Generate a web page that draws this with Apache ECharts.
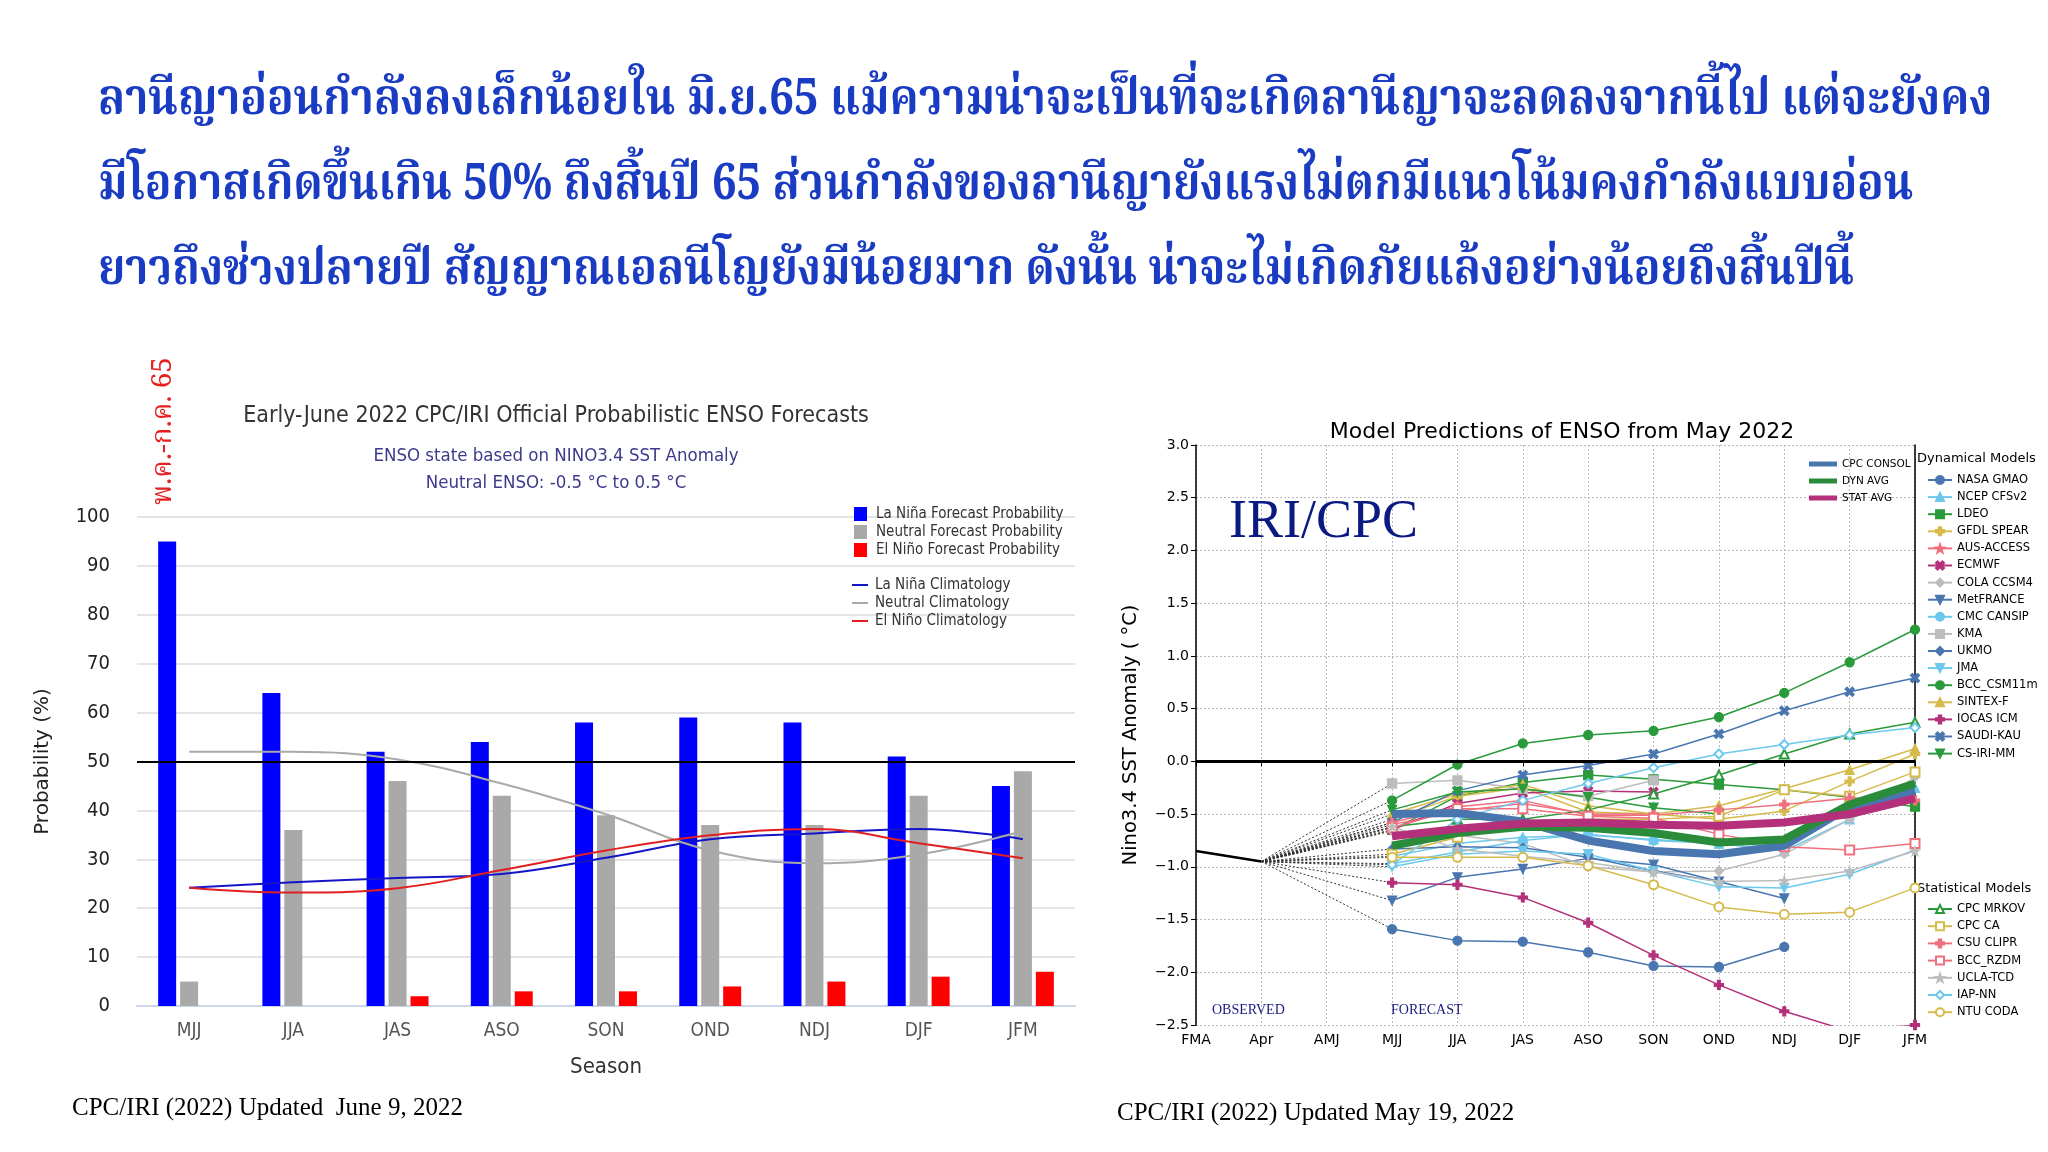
<!DOCTYPE html>
<html>
<head>
<meta charset="utf-8">
<title>ENSO forecasts</title>
<script src="https://cdn.jsdelivr.net/npm/echarts@6/dist/echarts.min.js"></script>
<style>
  html, body { margin: 0; padding: 0; background: #fff; }
  #main { width: 2048px; height: 1152px; }
</style>
</head>
<body>
<div id="main"></div>
<script>
// ---------- left chart: CPC/IRI probabilistic forecast ----------
var seasons = ['MJJ', 'JJA', 'JAS', 'ASO', 'SON', 'OND', 'NDJ', 'DJF', 'JFM'];
var laNinaProb  = [95, 64, 52, 54, 58, 59, 58, 51, 45];
var neutralProb = [5, 36, 46, 43, 39, 37, 37, 43, 48];
var elNinoProb  = [0, 0, 2, 3, 3, 4, 5, 6, 7];
var laNinaClim  = [24.2, 25.3, 26.2, 27.0, 30.3, 34.1, 35.3, 36.2, 34.1];
var neutralClim = [52.0, 52.0, 50.4, 45.5, 39.2, 31.8, 29.2, 31.0, 35.8];
var elNinoClim  = [24.2, 23.2, 24.1, 27.8, 31.8, 34.9, 36.2, 33.3, 30.2];

// ---------- right chart: model plume (values MJJ .. JFM) ----------
var plumeMonths = ['FMA', 'Apr', 'AMJ', 'MJJ', 'JJA', 'JAS', 'ASO', 'SON', 'OND', 'NDJ', 'DJF', 'JFM'];
var observed = [-0.85, -0.95];

// dynamical models
var nasaGmao  = [-1.59, -1.70, -1.71, -1.81, -1.94, -1.95, -1.76, null, null];
var ncepCfsv2 = [-0.90, -0.78, -0.72, -0.70, -0.74, -0.78, -0.85, -0.55, -0.25];
var ldeo      = [-0.65, -0.33, -0.20, -0.13, -0.17, -0.22, -0.27, -0.34, -0.43];
var gfdlSpear = [-0.55, -0.33, -0.25, -0.48, -0.50, -0.55, -0.47, -0.19, 0.07];
var ausAccess = [-0.60, -0.47, -0.40, -0.50, -0.50, null, null, null, null];
var ecmwf     = [-0.65, -0.40, -0.30, -0.28, -0.29, null, null, null, null];
var colaCcsm4 = [-0.66, -0.70, -0.78, -1.00, -1.05, -1.04, -0.88, -0.55, -0.15];
var metFrance = [-1.32, -1.10, -1.02, -0.92, -0.98, -1.14, -1.30, null, null];
var cmcCansip = [-0.97, -0.86, -0.75, -0.69, -0.75, -0.78, -0.80, null, null];
var kma       = [-0.21, -0.18, -0.26, -0.33, -0.18, null, null, null, null];
var ukmo      = [-0.83, -0.81, -0.82, -0.91, -1.04, -1.14, null, null, null];
var jma       = [-1.00, -0.88, -0.85, -0.88, -1.04, -1.19, -1.20, -1.07, -0.84];
var bccCsm11m = [-0.37, -0.03, 0.17, 0.25, 0.29, 0.42, 0.65, 0.94, 1.25];
var sintexF   = [-0.50, -0.31, -0.22, -0.42, -0.50, -0.42, -0.26, -0.08, 0.12];
var iocasIcm  = [-1.15, -1.17, -1.29, -1.53, -1.84, -2.12, -2.37, -2.56, -2.50];
var saudiKau  = [-0.58, -0.28, -0.13, -0.04, 0.07, 0.26, 0.48, 0.66, 0.79];
var csIriMm   = [-0.46, -0.29, -0.26, -0.34, -0.44, -0.50, null, null, null];

// statistical models
var cpcMrkov = [-0.62, -0.55, -0.55, -0.46, -0.31, -0.13, 0.07, 0.26, 0.37];
var cpcCa    = [-0.88, -0.72, -0.60, -0.55, -0.55, -0.52, -0.27, -0.33, -0.10];
var csuClipr = [-0.58, -0.43, -0.37, -0.51, -0.51, -0.46, -0.41, -0.35, -0.37];
var bccRzdm  = [-0.63, -0.45, -0.45, -0.52, -0.54, -0.69, -0.81, -0.84, -0.78];
var uclaTcd  = [-0.62, -0.83, -0.90, -0.96, -1.05, -1.14, -1.13, -1.04, -0.85];
var iapNn    = [-0.98, -0.55, -0.37, -0.21, -0.06, 0.07, 0.16, 0.25, 0.32];
var ntuCoda  = [-0.91, -0.91, -0.91, -0.99, -1.17, -1.38, -1.45, -1.43, -1.20];

// averages
var cpcConsol = [-0.50, -0.49, -0.57, -0.75, -0.85, -0.88, -0.80, -0.43, -0.28];
var dynAvg    = [-0.80, -0.68, -0.62, -0.63, -0.68, -0.77, -0.74, -0.41, -0.21];
var statAvg   = [-0.71, -0.64, -0.59, -0.58, -0.60, -0.61, -0.58, -0.50, -0.35];

// ---------- styles ----------
var narrow = "'Liberation Sans Narrow','DejaVu Sans Condensed','Open Sans',sans-serif";
var mpl = "'DejaVu Sans',sans-serif";
var serif = "'Liberation Serif','DejaVu Serif',serif";
var thai = "'Noto Serif Thai','Noto Sans Thai','Tlwg Typo','Garuda',serif";

var STEEL = '#4a76b0', SKY = '#6cc8ec', GREEN = '#2a9a3a', GOLD = '#d6bb4c';
var PINK = '#f0707e', MAGENTA = '#b5307a', LGRAY = '#bdbdbd';
var DOWN = 'path://M0,0L10,0L5,9Z';
var STAR = 'path://M5,0L6.2,3.6L10,3.8L7,6.1L8.1,9.8L5,7.6L1.9,9.8L3,6.1L0,3.8L3.8,3.6Z';
var XSYM = 'path://M2,0L5,3L8,0L10,2L7,5L10,8L8,10L5,7L2,10L0,8L3,5L0,2Z';
var PLUS = 'path://M3.5,0H6.5V3.5H10V6.5H6.5V10H3.5V6.5H0V3.5H3.5Z';

var dynModels = [
  ['NASA GMAO', nasaGmao, STEEL, 'circle'],
  ['NCEP CFSv2', ncepCfsv2, SKY, 'triangle'],
  ['LDEO', ldeo, GREEN, 'rect'],
  ['GFDL SPEAR', gfdlSpear, GOLD, PLUS],
  ['AUS-ACCESS', ausAccess, PINK, STAR],
  ['ECMWF', ecmwf, MAGENTA, XSYM],
  ['COLA CCSM4', colaCcsm4, LGRAY, 'diamond'],
  ['MetFRANCE', metFrance, STEEL, DOWN],
  ['CMC CANSIP', cmcCansip, SKY, 'circle'],
  ['KMA', kma, LGRAY, 'rect'],
  ['UKMO', ukmo, STEEL, 'diamond'],
  ['JMA', jma, SKY, DOWN],
  ['BCC_CSM11m', bccCsm11m, GREEN, 'circle'],
  ['SINTEX-F', sintexF, GOLD, 'triangle'],
  ['IOCAS ICM', iocasIcm, MAGENTA, PLUS],
  ['SAUDI-KAU', saudiKau, STEEL, XSYM],
  ['CS-IRI-MM', csIriMm, GREEN, DOWN]
];
var statModels = [
  ['CPC MRKOV', cpcMrkov, GREEN, 'emptyTriangle'],
  ['CPC CA', cpcCa, GOLD, 'emptyRect'],
  ['CSU CLIPR', csuClipr, PINK, PLUS],
  ['BCC_RZDM', bccRzdm, PINK, 'emptyRect'],
  ['UCLA-TCD', uclaTcd, LGRAY, STAR],
  ['IAP-NN', iapNn, SKY, 'emptyDiamond'],
  ['NTU CODA', ntuCoda, GOLD, 'emptyCircle']
];
var avgModels = [
  ['CPC CONSOL', cpcConsol, STEEL],
  ['DYN AVG', dynAvg, '#2a8c3a'],
  ['STAT AVG', statAvg, MAGENTA]
];

function pad(arr) { return [null, null, null].concat(arr); }

var chart = echarts.init(document.getElementById('main'));

var series = [
  { name: 'La Niña Forecast Probability', type: 'bar', data: laNinaProb, barWidth: 18, barGap: '22%',
    itemStyle: { color: '#0000ff' },
    markLine: { silent: true, symbol: 'none', label: { show: false },
      lineStyle: { color: '#000', width: 2, type: 'solid' }, data: [{ yAxis: 50 }] } },
  { name: 'Neutral Forecast Probability', type: 'bar', data: neutralProb, barWidth: 18, barGap: '22%',
    itemStyle: { color: '#a9a9a9' } },
  { name: 'El Niño Forecast Probability', type: 'bar', data: elNinoProb, barWidth: 18, barGap: '22%',
    itemStyle: { color: '#ff0000' } },
  { name: 'La Niña Climatology', type: 'line', data: laNinaClim, smooth: 0.4, symbol: 'none',
    lineStyle: { color: '#1515c8', width: 2 }, itemStyle: { color: '#1515c8' }, z: 4 },
  { name: 'Neutral Climatology', type: 'line', data: neutralClim, smooth: 0.4, symbol: 'none',
    lineStyle: { color: '#a9a9a9', width: 2 }, itemStyle: { color: '#a9a9a9' }, z: 4 },
  { name: 'El Niño Climatology', type: 'line', data: elNinoClim, smooth: 0.4, symbol: 'none',
    lineStyle: { color: '#e02020', width: 2 }, itemStyle: { color: '#e02020' }, z: 4 }
];

// observed and zero line
series.push({ type: 'line', xAxisIndex: 1, yAxisIndex: 1, data: observed, symbol: 'none',
  lineStyle: { color: '#000', width: 2.5 }, z: 6,
  markLine: { silent: true, symbol: 'none', label: { show: false },
    lineStyle: { color: '#000', width: 3, type: 'solid' }, data: [{ yAxis: 0 }] } });

// dotted connectors from the last observation to each model's first forecast
dynModels.concat(statModels).forEach(function (m) {
  var d = plumeMonths.map(function () { return null; });
  d[1] = observed[1];
  d[3] = m[1][0];
  series.push({ type: 'line', xAxisIndex: 1, yAxisIndex: 1, data: d, connectNulls: true,
    symbol: 'none', silent: true, z: 2,
    lineStyle: { color: '#333', width: 1, type: [2, 2] } });
});

dynModels.concat(statModels).forEach(function (m) {
  series.push({ name: m[0], type: 'line', xAxisIndex: 1, yAxisIndex: 1, data: pad(m[1]),
    symbol: m[3], symbolSize: 9, clip: true, z: 3,
    lineStyle: { color: m[2], width: 1.5 }, itemStyle: { color: m[2], borderColor: m[2], borderWidth: 1.3 } });
});

avgModels.forEach(function (m) {
  series.push({ name: m[0], type: 'line', xAxisIndex: 1, yAxisIndex: 1, data: pad(m[1]),
    symbol: 'none', z: 5, lineStyle: { color: m[2], width: 8 }, itemStyle: { color: m[2] } });
});

var headerLines = [
  'ลานีญาอ่อนกำลังลงเล็กน้อยใน มิ.ย.65 แม้ความน่าจะเป็นที่จะเกิดลานีญาจะลดลงจากนี้ไป แต่จะยังคง',
  'มีโอกาสเกิดขึ้นเกิน 50% ถึงสิ้นปี 65 ส่วนกำลังของลานีญายังแรงไม่ตกมีแนวโน้มคงกำลังแบบอ่อน',
  'ยาวถึงช่วงปลายปี สัญญาณเอลนีโญยังมีน้อยมาก ดังนั้น น่าจะไม่เกิดภัยแล้งอย่างน้อยถึงสิ้นปีนี้'
];

var graphics = headerLines.map(function (t, i) {
  return { type: 'text', x: 98, y: 106 + i * 85, scaleY: 1.15,
    style: { text: t, fill: '#1a3cc2', font: 'bold 44px ' + thai, verticalAlign: 'middle' } };
});
graphics.push(
  { type: 'text', x: 166, y: 431, rotation: Math.PI / 2,
    style: { text: 'พ.ค.-ก.ค. 65', fill: '#e62020', font: '28px ' + thai, align: 'center', verticalAlign: 'middle' } },
  { type: 'text', x: 1229, y: 523, z: 10,
    style: { text: 'IRI/CPC', fill: '#0a1a80', font: '54px ' + serif, verticalAlign: 'middle' } },
  { type: 'text', x: 1212, y: 1010, z: 10,
    style: { text: 'OBSERVED', fill: '#1a1a80', font: '14px ' + serif, verticalAlign: 'middle' } },
  { type: 'text', x: 1391, y: 1010, z: 10,
    style: { text: 'FORECAST', fill: '#1a1a80', font: '14px ' + serif, verticalAlign: 'middle' } },
  { type: 'text', x: 1917, y: 459,
    style: { text: 'Dynamical Models', fill: '#000', font: '13px ' + mpl, verticalAlign: 'middle' } },
  { type: 'text', x: 1917, y: 889,
    style: { text: 'Statistical Models', fill: '#000', font: '13px ' + mpl, verticalAlign: 'middle' } },
  { type: 'text', x: 72, y: 1108,
    style: { text: 'CPC/IRI (2022) Updated  June 9, 2022', fill: '#000', font: '25px ' + serif, verticalAlign: 'middle' } },
  { type: 'text', x: 1117, y: 1113,
    style: { text: 'CPC/IRI (2022) Updated May 19, 2022', fill: '#000', font: '25px ' + serif, verticalAlign: 'middle' } }
);

var option = {
  animation: false,
  backgroundColor: '#fff',
  title: [
    { text: 'Early-June 2022 CPC/IRI Official Probabilistic ENSO Forecasts', left: 551, top: 400, textAlign: 'center',
      textStyle: { fontFamily: narrow, fontSize: 23, fontWeight: 'normal', color: '#333' } },
    { text: 'ENSO state based on NINO3.4 SST Anomaly', left: 551, top: 442, textAlign: 'center',
      textStyle: { fontFamily: narrow, fontSize: 18.5, fontWeight: 'normal', color: '#3d3a8c' } },
    { text: 'Neutral ENSO: -0.5 °C to 0.5 °C', left: 551, top: 469, textAlign: 'center',
      textStyle: { fontFamily: narrow, fontSize: 18.5, fontWeight: 'normal', color: '#3d3a8c' } },
    { text: 'Model Predictions of ENSO from May 2022', left: 1557, top: 416, textAlign: 'center',
      textStyle: { fontFamily: mpl, fontSize: 22, fontWeight: 'normal', color: '#000' } }
  ],
  legend: [
    { orient: 'vertical', left: 849, top: 500, itemWidth: 13, itemHeight: 14, itemGap: 0, icon: 'rect',
      data: ['La Niña Forecast Probability', 'Neutral Forecast Probability', 'El Niño Forecast Probability'],
      textStyle: { fontFamily: narrow, fontSize: 15, lineHeight: 18, color: '#333', padding: [0, 0, 0, 4] } },
    { orient: 'vertical', left: 847, top: 571, itemWidth: 16, itemHeight: 2, itemGap: 0, icon: 'rect',
      data: ['La Niña Climatology', 'Neutral Climatology', 'El Niño Climatology'],
      textStyle: { fontFamily: narrow, fontSize: 15, lineHeight: 18, color: '#333', padding: [0, 0, 0, 2] } },
    { orient: 'vertical', left: 1804, top: 453, itemWidth: 28, itemHeight: 5, itemGap: 5, icon: 'rect',
      data: avgModels.map(function (m) { return m[0]; }),
      textStyle: { fontFamily: mpl, fontSize: 10.5, lineHeight: 12, color: '#000' } },
    { orient: 'vertical', left: 1922, top: 468, itemWidth: 24, itemHeight: 10, itemGap: 3.1,
      data: dynModels.map(function (m) { return m[0]; }),
      textStyle: { fontFamily: mpl, fontSize: 11.5, lineHeight: 14, color: '#000' } },
    { orient: 'vertical', left: 1922, top: 897, itemWidth: 24, itemHeight: 10, itemGap: 3.2,
      data: statModels.map(function (m) { return m[0]; }),
      textStyle: { fontFamily: mpl, fontSize: 11.5, lineHeight: 14, color: '#000' } }
  ],
  grid: [
    { left: 137, top: 517, width: 938, height: 489 },
    { left: 1196, top: 445, width: 719, height: 580 }
  ],
  xAxis: [
    { type: 'category', gridIndex: 0, data: seasons,
      axisTick: { show: false }, axisLine: { lineStyle: { color: '#ccd6eb', width: 2 } },
      axisLabel: { fontFamily: narrow, fontSize: 19, color: '#555', margin: 16 },
      name: 'Season', nameLocation: 'middle', nameGap: 50,
      nameTextStyle: { fontFamily: narrow, fontSize: 22, color: '#333' } },
    { type: 'category', gridIndex: 1, data: plumeMonths, boundaryGap: false,
      axisLine: { lineStyle: { color: '#000', width: 1.5 } },
      axisTick: { lineStyle: { color: '#000' }, length: 5 },
      axisLabel: { fontFamily: mpl, fontSize: 14, color: '#000', margin: 8 },
      splitLine: { show: true, lineStyle: { color: '#b8b8b8', type: [2, 2] } } },
    { type: 'category', gridIndex: 1, data: plumeMonths, boundaryGap: false, position: 'top',
      axisLine: { lineStyle: { color: '#000', width: 1.5 } },
      axisTick: { show: false }, axisLabel: { show: false }, splitLine: { show: false } }
  ],
  yAxis: [
    { type: 'value', gridIndex: 0, min: 0, max: 100, interval: 10,
      axisLabel: { fontFamily: narrow, fontSize: 20, color: '#222', margin: 27 },
      splitLine: { lineStyle: { color: '#e4e4e4', width: 2 } },
      name: 'Probability (%)', nameLocation: 'middle', nameGap: 84, nameRotate: 90,
      nameTextStyle: { fontFamily: mpl, fontSize: 20, color: '#222' } },
    { type: 'value', gridIndex: 1, min: -2.5, max: 3, interval: 0.5,
      axisLine: { show: true, lineStyle: { color: '#000', width: 1.5 } },
      axisTick: { show: true, lineStyle: { color: '#000' }, length: 5 },
      axisLabel: { fontFamily: mpl, fontSize: 14, color: '#000', margin: 7,
        formatter: function (v) { return v.toFixed(1).replace('-', '\u2212'); } },
      splitLine: { show: true, lineStyle: { color: '#b8b8b8', type: [2, 2] } },
      name: 'Nino3.4 SST Anomaly ( °C)', nameLocation: 'middle', nameGap: 55, nameRotate: 90,
      nameTextStyle: { fontFamily: mpl, fontSize: 19.5, color: '#000' } },
    { type: 'value', gridIndex: 1, min: -2.5, max: 3, interval: 0.5, position: 'right',
      axisLine: { show: true, lineStyle: { color: '#000', width: 1.5 } },
      axisTick: { show: false }, axisLabel: { show: false }, splitLine: { show: false } }
  ],
  graphic: graphics,
  series: series
};

chart.setOption(option);
</script>
</body>
</html>
